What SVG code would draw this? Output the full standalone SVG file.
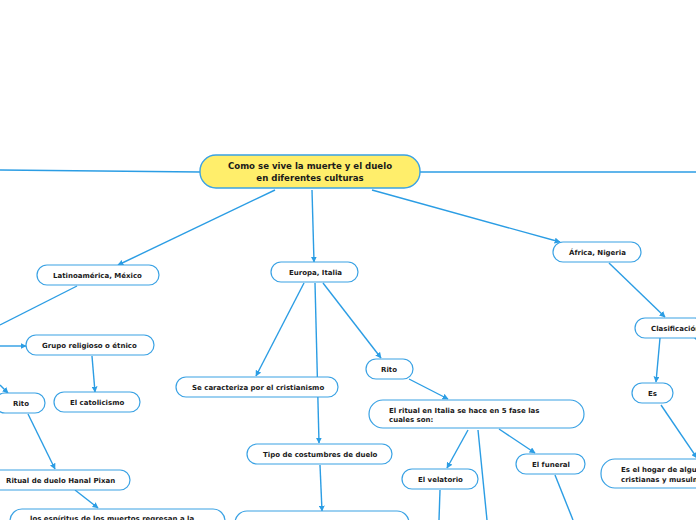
<svg xmlns="http://www.w3.org/2000/svg" width="696" height="520" viewBox="0 0 696 520">
<style>
.n{fill:#fff;stroke:#3aa2e4;stroke-width:1.2}
.m{fill:#ffee6b;stroke:#3aa2e4;stroke-width:1.4}
.t{font-family:"DejaVu Sans",Verdana,sans-serif;font-weight:bold;font-size:7px;fill:#1a1a1a}
.tm{font-family:"DejaVu Sans",Verdana,sans-serif;font-weight:bold;font-size:8.6px;fill:#1a1a1a;text-anchor:middle}
.c{stroke:#2b9de4;stroke-width:1.4;fill:none}
</style>
<defs>
<marker id="a" viewBox="0 0 10 10" refX="9" refY="5" markerWidth="6" markerHeight="6" orient="auto" markerUnits="userSpaceOnUse">
<path d="M0,0 L10,5 L0,10 z" fill="#2b9de4"/>
</marker>
</defs>
<rect width="696" height="520" fill="#fff"/>
<g id="connectors">
<line class="c" x1="200" y1="172" x2="0" y2="170"/>
<line class="c" x1="420" y1="172" x2="696" y2="172"/>
<line class="c" x1="275" y1="190" x2="118" y2="265" marker-end="url(#a)"/>
<line class="c" x1="312" y1="190" x2="314" y2="262" marker-end="url(#a)"/>
<line class="c" x1="372" y1="190" x2="560" y2="242" marker-end="url(#a)"/>
<line class="c" x1="77" y1="286" x2="0" y2="325"/>
<line class="c" x1="0" y1="346" x2="26" y2="346" marker-end="url(#a)"/>
<line class="c" x1="0" y1="385" x2="8" y2="393" marker-end="url(#a)"/>
<line class="c" x1="92" y1="356" x2="95" y2="392" marker-end="url(#a)"/>
<line class="c" x1="28" y1="414" x2="55" y2="469" marker-end="url(#a)"/>
<line class="c" x1="75" y1="490" x2="98" y2="508" marker-end="url(#a)"/>
<line class="c" x1="304" y1="283" x2="256" y2="376" marker-end="url(#a)"/>
<line class="c" x1="315" y1="283" x2="319" y2="443" marker-end="url(#a)"/>
<line class="c" x1="323" y1="283" x2="381" y2="358" marker-end="url(#a)"/>
<line class="c" x1="320" y1="465" x2="322" y2="511" marker-end="url(#a)"/>
<line class="c" x1="409" y1="379" x2="448" y2="399" marker-end="url(#a)"/>
<line class="c" x1="468" y1="430" x2="447" y2="468" marker-end="url(#a)"/>
<line class="c" x1="478" y1="430" x2="487" y2="520"/>
<line class="c" x1="499" y1="429" x2="535" y2="453" marker-end="url(#a)"/>
<line class="c" x1="440" y1="490" x2="439" y2="520"/>
<line class="c" x1="555" y1="475" x2="573" y2="520"/>
<line class="c" x1="609" y1="263" x2="665" y2="317" marker-end="url(#a)"/>
<line class="c" x1="660" y1="338" x2="656" y2="382" marker-end="url(#a)"/>
<line class="c" x1="661" y1="405" x2="697" y2="458" marker-end="url(#a)"/>
<line class="c" x1="694" y1="337" x2="697" y2="340"/>
</g>
<g id="main"><rect class="m" x="200" y="155" width="220" height="33" rx="16"/>
<text class="tm" x="310" y="169">Como se vive la muerte y el duelo</text>
<text class="tm" x="310" y="181">en diferentes culturas</text></g>
<g id="latam"><rect class="n" x="37" y="265" width="122" height="20" rx="10"/><text class="t" x="53" y="277.5">Latinoamérica, México</text></g>
<g id="europa"><rect class="n" x="271" y="262" width="87" height="20" rx="10"/><text class="t" x="289" y="274.5">Europa, Italia</text></g>
<g id="africa"><rect class="n" x="553" y="242" width="88" height="20" rx="10"/><text class="t" x="569" y="254.5">África, Nigeria</text></g>
<g id="grupo"><rect class="n" x="26" y="335" width="128" height="20" rx="10"/><text class="t" x="42" y="347.5">Grupo religioso o étnico</text></g>
<g id="rito1"><rect class="n" x="-5" y="393" width="50" height="20" rx="10"/><text class="t" x="13" y="405.5">Rito</text></g>
<g id="catol"><rect class="n" x="54" y="392" width="86" height="20" rx="10"/><text class="t" x="70" y="404.5">El catolicismo</text></g>
<g id="hanal"><rect class="n" x="-10" y="470" width="140" height="20" rx="10"/><text class="t" x="6" y="482.5">Ritual de duelo Hanal Pixan</text></g>
<g id="espiritus"><rect class="n" x="10" y="509" width="215" height="24" rx="12"/><text class="t" x="30" y="521">los espíritus de los muertos regresan a la</text></g>
<g id="cristianismo"><rect class="n" x="176" y="377" width="162" height="20" rx="10"/><text class="t" x="192" y="389.5">Se caracteriza por el cristianismo</text></g>
<g id="tipo"><rect class="n" x="247" y="444" width="145" height="20" rx="10"/><text class="t" x="263" y="456.5">Tipo de costumbres de duelo</text></g>
<g id="tipo-hijo"><rect class="n" x="235" y="511" width="174" height="24" rx="12"/></g>
<g id="rito2"><rect class="n" x="366" y="359" width="47" height="20" rx="10"/><text class="t" x="381" y="371.5">Rito</text></g>
<g id="ritual"><rect class="n" x="369" y="400" width="215" height="28" rx="14"/><text class="t" x="389" y="413">El ritual en Italia se hace en 5 fase las</text><text class="t" x="389" y="422">cuales son:</text></g>
<g id="velatorio"><rect class="n" x="402" y="469" width="76" height="20" rx="10"/><text class="t" x="418" y="481.5">El velatorio</text></g>
<g id="funeral"><rect class="n" x="516" y="454" width="69" height="20" rx="10"/><text class="t" x="532" y="466.5">El funeral</text></g>
<g id="clasif"><rect class="n" x="635" y="318" width="70" height="20" rx="10"/><text class="t" x="651" y="330.5">Clasificación</text></g>
<g id="es"><rect class="n" x="632" y="383" width="41" height="20" rx="10"/><text class="t" x="648" y="395.5">Es</text></g>
<g id="hogar"><rect class="n" x="601" y="459" width="110" height="29" rx="14"/><text class="t" x="621" y="472">Es el hogar de algunas</text><text class="t" x="621" y="481.5">cristianas y musulmanas</text></g>
</svg>
